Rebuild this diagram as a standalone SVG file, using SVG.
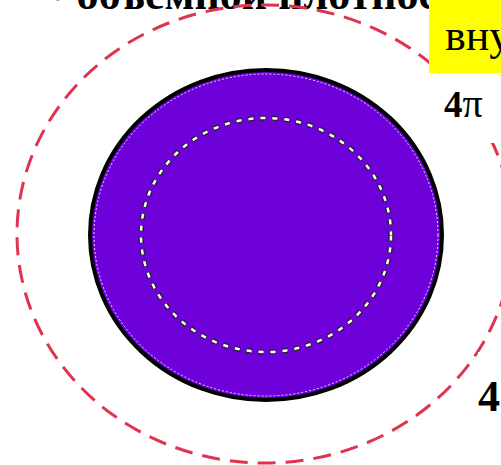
<svg xmlns="http://www.w3.org/2000/svg" width="501" height="465" viewBox="0 0 501 465">
<style>
.t{font-family:"Liberation Serif","DejaVu Serif",serif;fill:#000}
</style>
<rect width="501" height="465" fill="#fff"/>
<g id="title"><text class="t" x="50" y="9" font-size="44" font-weight="bold">• объемной плотности</text></g>
<g id="outer"><ellipse cx="265" cy="234" rx="248" ry="229" fill="none" stroke="#e0334f" stroke-width="3" stroke-dasharray="18 10"/></g>
<g id="ball">
<ellipse cx="266" cy="235" rx="176" ry="165" fill="#6e00da" stroke="#000" stroke-width="4"/>
<ellipse cx="266" cy="235" rx="172" ry="161" fill="none" stroke="#e8d8ff" stroke-width="1" stroke-dasharray="2 2"/>
</g>
<g id="inner">
<ellipse cx="266" cy="235" rx="125" ry="117" fill="none" stroke="#222" stroke-width="5" stroke-dasharray="6 6"/>
<ellipse cx="266" cy="235" rx="125" ry="117" fill="none" stroke="#fff" stroke-width="2.5" stroke-dasharray="5 7" stroke-dashoffset="-0.5"/>
</g>
<g id="labels">
<rect x="440" y="73" width="61" height="70" fill="#fff"/>
<rect x="478" y="352" width="23" height="113" fill="#fff"/>
<rect x="429" y="0" width="72" height="73" fill="#ffff00"/>
<text class="t" x="445" y="50" font-size="44">вну</text>
<text class="t" x="444" y="117" font-size="37" font-weight="bold">4<tspan font-weight="normal" font-size="40">π</tspan></text>
<text class="t" x="478" y="411" font-size="44" font-weight="bold">4</text>
</g>
</svg>
